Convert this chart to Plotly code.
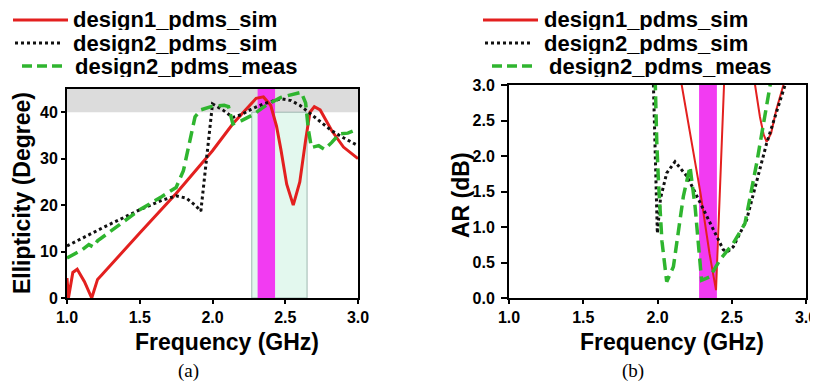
import plotly.graph_objects as go

# page body adds an 8px offset; the figure fills the rest of the 818x384 window
OFF = 8
W, H = 818 - OFF, 384 - OFF

# ---------------- data: panel (a) Ellipticity ----------------
ell_d1_f = [1.0, 1.01, 1.04, 1.07, 1.12, 1.17, 1.21, 1.24, 1.5, 1.75, 2.0, 2.14, 2.30, 2.35,
            2.40, 2.44, 2.47, 2.51, 2.555, 2.60, 2.64, 2.67, 2.70, 2.74, 2.82, 2.90, 3.0]
ell_d1_v = [4.3, 0.0, 5.5, 6.2, 3.5, 0.0, 4.0, 5.0, 14.0, 22.5, 31.7, 37.5, 43.0, 43.3,
            41.5, 37.0, 32.0, 24.5, 20.0, 25.0, 34.0, 40.0, 41.2, 40.5, 36.0, 32.5, 30.0]

ell_d2s_f = [1.0, 1.25, 1.5, 1.65, 1.75, 1.82, 1.88, 1.92, 2.0, 2.07, 2.14, 2.2, 2.27, 2.35,
             2.47, 2.54, 2.6, 2.66, 2.74, 2.82, 2.9, 3.0]
ell_d2s_v = [11.2, 15.2, 19.0, 21.0, 22.0, 21.5, 20.0, 18.7, 41.8, 40.5, 38.9, 39.5, 40.7, 41.8,
             42.9, 42.5, 41.5, 40.0, 38.0, 36.0, 34.5, 32.8]

ell_d2m_f = [1.0, 1.05, 1.1, 1.15, 1.18, 1.21, 1.35, 1.5, 1.65, 1.75, 1.80, 1.85, 1.88, 1.92,
             2.0, 2.08, 2.11, 2.14, 2.2, 2.28, 2.37, 2.47, 2.55, 2.61, 2.64, 2.66, 2.68,
             2.73, 2.77, 2.82, 2.87, 2.93, 3.0]
ell_d2m_v = [8.6, 9.5, 10.3, 11.5, 11.0, 12.3, 15.5, 19.0, 21.8, 23.8, 27.4, 35.0, 39.0, 40.5,
             41.3, 41.5, 41.2, 37.5, 38.2, 39.5, 41.5, 43.2, 43.8, 44.3, 42.0, 36.0, 32.4,
             32.8, 32.0, 33.5, 35.3, 35.5, 36.4]

# ---------------- data: panel (b) Axial ratio ----------------
ar_d1_f = [2.10, 2.163, 2.29, 2.35, 2.394, 2.448, 2.50, 2.60, 2.657, 2.69, 2.715, 2.735,
           2.765, 2.80, 2.848, 2.90]
ar_d1_v = [4.2, 3.0, 1.47, 0.63, 0.11, 3.0, 4.2, 4.2, 3.0, 2.55, 2.3, 2.2, 2.32, 2.65, 3.0, 3.8]

ar_d2s_f = [1.965, 1.972, 1.98, 1.999, 2.02, 2.062, 2.118, 2.20, 2.29, 2.38, 2.443, 2.47,
            2.51, 2.60, 2.735, 2.859, 2.90]
ar_d2s_v = [3.6, 3.0, 2.37, 0.91, 1.40, 1.76, 1.92, 1.71, 1.33, 0.96, 0.68, 0.65,
            0.72, 1.10, 2.18, 3.0, 3.5]

ar_d2m_f = [1.978, 1.983, 1.995, 2.006, 2.03, 2.062, 2.107, 2.174, 2.219, 2.253, 2.297, 2.354,
            2.421, 2.51, 2.589, 2.668, 2.769, 2.80]
ar_d2m_v = [3.6, 3.0, 2.2, 1.66, 0.80, 0.23, 0.44, 1.43, 1.85, 1.29, 0.25, 0.30,
            0.54, 0.77, 1.05, 1.90, 3.0, 3.5]

# highlighted bands (GHz / value ranges)
a_gray_band = [40, 45]
a_green_band = [2.27, 2.65]
a_magenta_band = [2.31, 2.43]
b_magenta_band = [2.28, 2.40]

x_ticks = [1.0, 1.5, 2.0, 2.5, 3.0]
a_y_ticks = [0, 10, 20, 30, 40]
b_y_ticks = [0.0, 0.5, 1.0, 1.5, 2.0, 2.5, 3.0]

names = ["design1_pdms_sim", "design2_pdms_sim", "design2_pdms_meas"]

RED = "#E3201F"
BLACK = "#111111"
GREEN = "#2FB52F"
MAGENTA = "#F23BF2"
LGREEN = "#E3F8EE"
GRAY = "#DCDCDC"

SANS = "Liberation Sans, Arial, sans-serif"
TICKF = dict(family=SANS, size=16, color="black", weight="bold")
TITLEF = dict(family=SANS, size=23, color="black", weight="bold")
LEGF = dict(family=SANS, size=22, color="black", weight="bold")


def px(x):
    return (x - OFF) / W


def py(y):
    return 1 - (y - OFF) / H


fig = go.Figure()

styles = [dict(color=RED, width=3), dict(color=BLACK, width=3, dash="3px,3px"),
          dict(color=GREEN, width=3.5, dash="12px,6px")]
styles_b = [dict(color=RED, width=2), dict(color=BLACK, width=3, dash="3px,3px"),
            dict(color=GREEN, width=3.5, dash="12px,6px")]

for f, v, st, nm in zip([ell_d1_f, ell_d2s_f, ell_d2m_f], [ell_d1_v, ell_d2s_v, ell_d2m_v], styles, names):
    fig.add_trace(go.Scatter(x=f, y=v, mode="lines", line=st, name=nm, xaxis="x", yaxis="y",
                             showlegend=False))
for f, v, st, nm in zip([ar_d1_f, ar_d2s_f, ar_d2m_f], [ar_d1_v, ar_d2s_v, ar_d2m_v], styles_b, names):
    fig.add_trace(go.Scatter(x=f, y=v, mode="lines", line=st, name=nm, xaxis="x2", yaxis="y2",
                             showlegend=False))

shapes = []
# panel (a) bands
shapes.append(dict(type="rect", xref="x", yref="y", x0=1.0, x1=3.0, y0=a_gray_band[0], y1=a_gray_band[1],
                   fillcolor=GRAY, line=dict(width=0), layer="below"))
shapes.append(dict(type="rect", xref="x", yref="y", x0=a_green_band[0], x1=a_green_band[1], y0=0,
                   y1=a_gray_band[0], fillcolor=LGREEN, line=dict(color="#9FB8B0", width=1), layer="below"))
shapes.append(dict(type="rect", xref="x", yref="y", x0=a_magenta_band[0], x1=a_magenta_band[1], y0=0,
                   y1=a_gray_band[1], fillcolor=MAGENTA, line=dict(width=0), layer="below"))
# panel (b) band
shapes.append(dict(type="rect", xref="x2", yref="y2", x0=b_magenta_band[0], x1=b_magenta_band[1], y0=0,
                   y1=3.0, fillcolor=MAGENTA, line=dict(width=0), layer="below"))

annotations = []


# legends (drawn as swatch + text)
def legend(x_line0, x_line1, x_text, rows_y, text_x_offsets):
    for i, (nm, st) in enumerate(zip(names, styles)):
        y = rows_y[i]
        lst = dict(st)
        if i == 2:
            lst["dash"] = "10px,5px"
        shapes.append(dict(type="line", xref="paper", yref="paper", x0=px(x_line0[i]), x1=px(x_line1[i]),
                           y0=py(y), y1=py(y), line=lst))
        annotations.append(dict(text=nm, xref="paper", yref="paper", x=px(x_text + text_x_offsets[i]),
                                y=py(y), xanchor="left", yanchor="middle", showarrow=False, font=LEGF,
                                height=21, valign="middle"))


legend([13, 15, 22], [68, 60, 62], 71, [20, 43, 66], [0, 0, 2])
legend([483, 485, 492], [538, 533, 533], 542, [20, 43, 66], [0, 0, 5])

# axis titles
annotations.append(dict(text="Frequency (GHz)", xref="paper", yref="paper", x=px(227), y=py(342),
                        xanchor="center", yanchor="middle", showarrow=False, font=TITLEF))
annotations.append(dict(text="Frequency (GHz)", xref="paper", yref="paper", x=px(672), y=py(342),
                        xanchor="center", yanchor="middle", showarrow=False, font=TITLEF))
annotations.append(dict(text="Ellipticity (Degree)", xref="paper", yref="paper", x=px(22), y=py(193),
                        xanchor="center", yanchor="middle", showarrow=False, textangle=-90, font=TITLEF))
annotations.append(dict(text="AR (dB)", xref="paper", yref="paper", x=px(461), y=py(195),
                        xanchor="center", yanchor="middle", showarrow=False, textangle=-90, font=TITLEF))
# panel labels
SERIF = dict(family="Liberation Serif, Times New Roman, serif", size=19, color="black")
annotations.append(dict(text="(a)", xref="paper", yref="paper", x=px(188), y=py(371),
                        xanchor="center", yanchor="middle", showarrow=False, font=SERIF))
annotations.append(dict(text="(b)", xref="paper", yref="paper", x=px(633), y=py(371),
                        xanchor="center", yanchor="middle", showarrow=False, font=SERIF))

axis_common = dict(showline=True, linecolor="black", linewidth=2, mirror=True, showgrid=False,
                   zeroline=False, ticks="outside", tickcolor="black", tickwidth=1.5,
                   tickfont=TICKF, automargin=False)

fig.update_layout(
    width=W, height=H,
    margin=dict(l=0, r=0, t=0, b=0, autoexpand=False),
    paper_bgcolor="white", plot_bgcolor="white",
    showlegend=False,
    xaxis=dict(domain=[px(67), px(358)], range=[1.0, 3.0], tickvals=x_ticks, tickformat=".1f",
               anchor="y", ticklen=4, **axis_common),
    yaxis=dict(domain=[py(298), py(89)], range=[0, 45], tickvals=a_y_ticks, anchor="x", ticklen=4,
               **axis_common),
    xaxis2=dict(domain=[px(509), px(806)], range=[1.0, 3.0], tickvals=x_ticks, tickformat=".1f",
                anchor="y2", ticklen=4, **axis_common),
    yaxis2=dict(domain=[py(298), py(85)], range=[0, 3.0], tickvals=b_y_ticks, tickformat=".1f",
                anchor="x2", ticklen=6, ticklabelstandoff=3, **axis_common),
    shapes=shapes,
    annotations=annotations,
)

fig.write_html("out.html")
